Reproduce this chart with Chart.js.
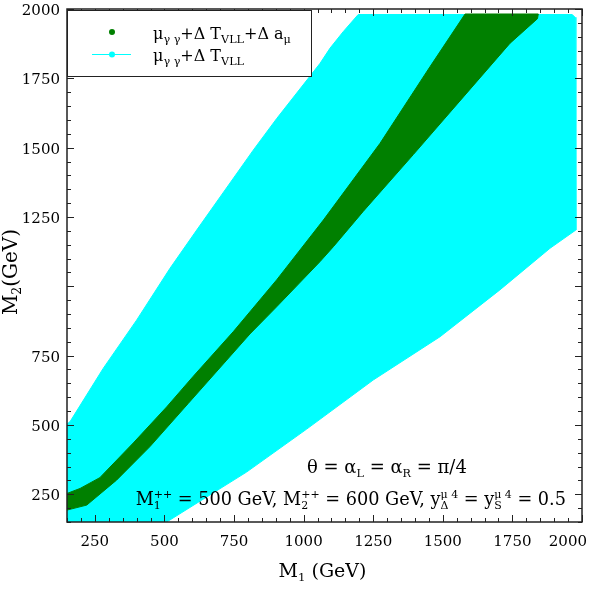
<!DOCTYPE html>
<html>
<head>
<meta charset="utf-8">
<script src="https://cdn.jsdelivr.net/npm/chart.js@4.4.1/dist/chart.umd.min.js"></script>
<style>
  html, body { margin: 0; padding: 0; background: #fff; }
</style>
</head>
<body>
<canvas id="grafico" width="590" height="590"></canvas>
<script>
// Región cian: mu_gg + Delta T_VLL (contorno, M1 y M2 en GeV)
const cianM1 = [150, 161, 280, 400, 520, 616, 819, 904, 1059, 1095, 1142, 1196, 1965, 1975, 1978, 1885, 1705, 1490, 1250, 1011, 795, 508, 150];
const cianM2 = [503, 512, 704, 878, 1065, 1203, 1491, 1606, 1804, 1859, 1918, 1980, 1980, 1970, 1203, 1137, 987, 818, 662, 485, 330, 150, 150];

// Región verde: mu_gg + Delta T_VLL + Delta a_mu
const verdeM1 = [150, 197, 268, 388, 508, 604, 747, 903, 1071, 1274, 1454, 1580, 1843, 1840, 1741, 1574, 1394, 1214, 1107, 1059, 903, 807, 724, 586, 448, 328, 221, 150];
const verdeM2 = [253, 271, 310, 435, 565, 676, 836, 1023, 1239, 1515, 1792, 1982, 1982, 1965, 1876, 1683, 1475, 1270, 1143, 1089, 926, 828, 734, 578, 422, 301, 211, 193];

// Ejes
const ticksX = [250, 500, 750, 1000, 1250, 1500, 1750, 2000];
const etiquetasX = ['250', '500', '750', '1000', '1250', '1500', '1750', '2000'];
const ticksY = [250, 500, 750, 1000, 1250, 1500, 1750, 2000];
const etiquetasY = ['250', '500', '750', '', '1250', '1500', '1750', '2000'];
const rangoX = [150, 2000];
const rangoY = [150, 2000];

const VERDE = '#008000';
const CIAN = '#00ffff';
const TINTA = '#222';
const fuente = tam => `${tam}px "DejaVu Serif"`;

const aPuntos = (xs, ys) => xs.map((x, i) => ({ x: x, y: ys[i] }));

// Texto con subíndices / superíndices: partes = ['M', {sub:'1', sup:'++'}, ' = 500']
function anchoRico(ctx, partes, tam, esc = 0.62) {
  let w = 0;
  partes.forEach(p => {
    if (typeof p === 'string') {
      ctx.font = fuente(tam);
      w += ctx.measureText(p).width;
    } else {
      ctx.font = fuente(tam * esc);
      const a = p.sub ? ctx.measureText(p.sub).width : 0;
      const b = p.sup ? ctx.measureText(p.sup).width : 0;
      w += Math.max(a, b);
    }
  });
  return w;
}

function dibujarRico(ctx, partes, x, y, tam, esc = 0.62) {
  ctx.textBaseline = 'alphabetic';
  ctx.textAlign = 'left';
  let cx = x;
  partes.forEach(p => {
    if (typeof p === 'string') {
      ctx.font = fuente(tam);
      ctx.fillText(p, cx, y);
      cx += ctx.measureText(p).width;
    } else {
      ctx.font = fuente(tam * esc);
      let w = 0;
      if (p.sub) {
        ctx.fillText(p.sub, cx, y + tam * 0.22);
        w = ctx.measureText(p.sub).width;
      }
      if (p.sup) {
        ctx.fillText(p.sup, cx, y - tam * 0.42);
        w = Math.max(w, ctx.measureText(p.sup).width);
      }
      cx += w;
    }
  });
}

// Marco, marcas hacia dentro, etiquetas, leyenda y notas (estilo gnuplot)
const marcoGnuplot = {
  id: 'marcoGnuplot',
  afterDraw(chart) {
    const ctx = chart.ctx;
    const { left, right, top, bottom } = chart.chartArea;
    const sx = chart.scales.x;
    const sy = chart.scales.y;
    ctx.save();

    // Marcas
    ctx.strokeStyle = TINTA;
    ctx.lineWidth = 1;
    ctx.beginPath();
    for (let v = rangoX[0]; v <= rangoX[1]; v += 50) {
      const l = v % 250 === 0 ? 7 : 4;
      const px = Math.round(sx.getPixelForValue(v)) + 0.5;
      ctx.moveTo(px, bottom); ctx.lineTo(px, bottom - l);
      ctx.moveTo(px, top); ctx.lineTo(px, top + l);
    }
    for (let v = rangoY[0]; v <= rangoY[1]; v += 50) {
      const l = v % 250 === 0 ? 7 : 4;
      const py = Math.round(sy.getPixelForValue(v)) + 0.5;
      ctx.moveTo(left, py); ctx.lineTo(left + l, py);
      ctx.moveTo(right, py); ctx.lineTo(right - l, py);
    }
    ctx.stroke();

    // Marco
    ctx.lineWidth = 1.5;
    ctx.strokeRect(left, top, right - left, bottom - top);

    // Etiquetas de los ejes
    ctx.fillStyle = '#000';
    ctx.font = fuente(15);
    ctx.textBaseline = 'alphabetic';
    ctx.textAlign = 'center';
    ticksX.forEach((v, i) => {
      const w = ctx.measureText(etiquetasX[i]).width;
      let px = sx.getPixelForValue(v);
      if (px + w / 2 > 587) px = 587 - w / 2;
      ctx.fillText(etiquetasX[i], px, bottom + 24);
    });
    ctx.textAlign = 'right';
    ctx.textBaseline = 'middle';
    ticksY.forEach((v, i) => {
      ctx.fillText(etiquetasY[i], left - 7, sy.getPixelForValue(v) + 2);
    });

    // Títulos
    const tituloX = ['M', { sub: '1' }, ' (GeV)'];
    const wx = anchoRico(ctx, tituloX, 19);
    dibujarRico(ctx, tituloX, (left + right) / 2 - wx / 2 - 2, 577, 19);
    const tituloY = ['M', { sub: '2' }, '(GeV)'];
    const wy = anchoRico(ctx, tituloY, 20);
    ctx.save();
    ctx.translate(17, 272);
    ctx.rotate(-Math.PI / 2);
    dibujarRico(ctx, tituloY, -wy / 2, 0, 20);
    ctx.restore();

    // Leyenda
    ctx.fillStyle = '#fff';
    ctx.fillRect(68, 10, 244, 66);
    ctx.strokeStyle = TINTA;
    ctx.lineWidth = 1;
    ctx.strokeRect(67.5, 10.5, 244, 66);
    ctx.fillStyle = VERDE;
    ctx.beginPath(); ctx.arc(112, 32, 3, 0, Math.PI * 2); ctx.fill();
    ctx.strokeStyle = CIAN;
    ctx.beginPath(); ctx.moveTo(92, 54.5); ctx.lineTo(131, 54.5); ctx.stroke();
    ctx.fillStyle = CIAN;
    ctx.beginPath(); ctx.arc(112, 54.5, 3, 0, Math.PI * 2); ctx.fill();
    ctx.fillStyle = '#000';
    dibujarRico(ctx, ['\u03bc', { sub: '\u03b3 \u03b3' }, '+\u0394 T', { sub: 'VLL' }, '+\u0394 a', { sub: '\u03bc' }], 153, 39, 16, 0.7);
    dibujarRico(ctx, ['\u03bc', { sub: '\u03b3 \u03b3' }, '+\u0394 T', { sub: 'VLL' }], 153, 61, 16, 0.7);

    // Notas
    dibujarRico(ctx, ['\u03b8 = \u03b1', { sub: 'L' }, ' = \u03b1', { sub: 'R' }, ' = \u03c0/4'], 307, 473, 18);
    const nota = ['M', { sub: '1', sup: '++' }, ' = 500 GeV, M', { sub: '2', sup: '++' }, ' = 600 GeV, y', { sub: '\u0394', sup: '\u03bc 4' }, ' = y', { sub: 'S', sup: '\u03bc 4' }, ' = 0.5'];
    const wn = anchoRico(ctx, nota, 17.7);
    dibujarRico(ctx, nota, 566 - wn, 505, 17.7);

    ctx.restore();
  }
};

const ctx = document.getElementById('grafico').getContext('2d');

new Chart(ctx, {
  type: 'line',
  data: {
    datasets: [
      {
        label: '\u03bc\u03b3\u03b3+\u0394T_VLL+\u0394a\u03bc',
        data: aPuntos(verdeM1, verdeM2),
        fill: 'shape',
        backgroundColor: VERDE,
        borderColor: VERDE,
        borderWidth: 1,
        pointRadius: 0,
        tension: 0,
        order: 0
      },
      {
        label: '\u03bc\u03b3\u03b3+\u0394T_VLL',
        data: aPuntos(cianM1, cianM2),
        fill: 'shape',
        backgroundColor: CIAN,
        borderColor: CIAN,
        borderWidth: 1,
        pointRadius: 0,
        tension: 0,
        order: 1
      }
    ]
  },
  options: {
    responsive: false,
    animation: false,
    layout: { padding: { left: 0, right: 8, top: 9, bottom: 0 } },
    plugins: { legend: { display: false }, tooltip: { enabled: false } },
    scales: {
      x: {
        type: 'linear', min: rangoX[0], max: rangoX[1],
        ticks: { display: false }, grid: { display: false }, border: { display: false },
        afterFit: s => { s.height = 68; }
      },
      y: {
        type: 'linear', min: rangoY[0], max: rangoY[1],
        ticks: { display: false }, grid: { display: false }, border: { display: false },
        afterFit: s => { s.width = 67; }
      }
    }
  },
  plugins: [marcoGnuplot]
});
</script>
</body>
</html>
